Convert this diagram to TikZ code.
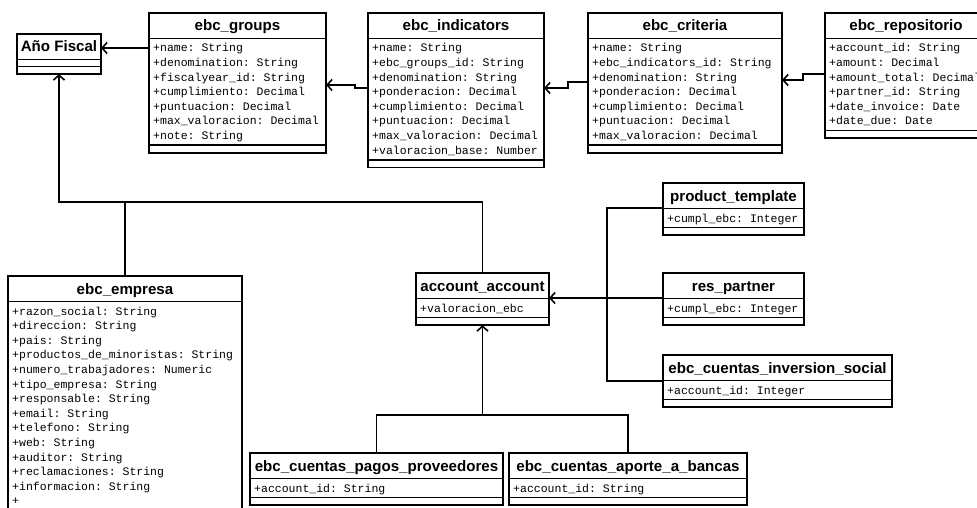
\documentclass[tikz,border=0pt]{standalone}
\usepackage{fontspec}
\setmainfont{Liberation Sans}
\newfontfamily\clstitlefont{Liberation Sans}
\newfontfamily\clsattrfont{Liberation Mono}
\usetikzlibrary{arrows.meta,calc}
\frenchspacing

\tikzset{
  classbox/.style={draw, line width=1.6pt, inner sep=0pt, outer sep=0pt, anchor=north west},
  classline/.style={line width=1.6pt},
  classtitle/.style={anchor=base, inner sep=0pt,
    font=\clstitlefont\bfseries\fontsize{15.1}{18}\selectfont},
  attrtext/.style={anchor=base west, inner sep=0pt,
    font=\clsattrfont\fontsize{11.5}{14}\selectfont\frenchspacing},
  conn/.style={line width=1.6pt},
  assoc/.style={conn, -{Straight Barb[length=5pt,width=11pt]}},
}

% UML class box: name, left x, top y, width, number of attributes, title, attributes
\newcommand\umlclass[7]{%
  \pgfmathsetmacro\clsattr{ifthenelse(#5==0,7,#5*14.6+4.5)}%
  \pgfmathsetmacro\clsheight{25.5+\clsattr+7.5}%
  \node[classbox, minimum width=#4pt, minimum height=\clsheight pt] (#1) at (#2,#3) {};
  \draw[classline] ($(#1.north west)+(0,25.5)$) -- ++(#4,0);
  \draw[classline] ($(#1.north west)+(0,25.5+\clsattr)$) -- ++(#4,0);
  \node[classtitle] (#1-t) at ($(#1.north)+(0,18)$) {#6};
  \ifnum#5>0
    \foreach \clsline [count=\i from 0] in {#7} {
      \node[attrtext] (#1-a\i) at ($(#1.north west)+(4,39+\i*14.6)$) {\clsline};
    }
  \fi
}

\begin{document}
\begin{tikzpicture}[x=1pt, y=-1pt]
  \useasboundingbox (0,0) rectangle (977,508);
  \fill[white] (0,0) rectangle (977,508);
  \clip (0,0) rectangle (977,508);

  % classes
  \umlclass{fiscal}{17}{34}{84}{0}{Año Fiscal}{}
  \umlclass{groups}{149}{13}{177}{7}{ebc\_groups}{%
    +name: String,+denomination: String,+fiscalyear\_id: String,%
    +cumplimiento: Decimal,+puntuacion: Decimal,+max\_valoracion: Decimal,+note: String}
  \umlclass{indicators}{368}{13}{176}{8}{ebc\_indicators}{%
    +name: String,+ebc\_groups\_id: String,+denomination: String,+ponderacion: Decimal,%
    +cumplimiento: Decimal,+puntuacion: Decimal,+max\_valoracion: Decimal,%
    +valoracion\_base: Number}
  \umlclass{criteria}{588}{13}{194}{7}{ebc\_criteria}{%
    +name: String,+ebc\_indicators\_id: String,+denomination: String,%
    +ponderacion: Decimal,+cumplimiento: Decimal,+puntuacion: Decimal,%
    +max\_valoracion: Decimal}
  \umlclass{repositorio}{825}{13}{162}{6}{ebc\_repositorio}{%
    +account\_id: String,+amount: Decimal,+amount\_total: Decimal,%
    +partner\_id: String,+date\_invoice: Date,+date\_due: Date}
  \umlclass{empresa}{8}{276}{234}{14}{ebc\_empresa}{%
    +razon\_social: String,+direccion: String,+pais: String,%
    +productos\_de\_minoristas: String,+numero\_trabajadores: Numeric,%
    +tipo\_empresa: String,+responsable: String,+email: String,+telefono: String,%
    +web: String,+auditor: String,+reclamaciones: String,+informacion: String,+}
  \umlclass{account}{416}{273}{133}{1}{account\_account}{+valoracion\_ebc}
  \umlclass{product}{663}{183}{141}{1}{product\_template}{+cumpl\_ebc: Integer}
  \umlclass{partner}{663}{273}{141}{1}{res\_partner}{+cumpl\_ebc: Integer}
  \umlclass{inversion}{663}{355}{229}{1}{ebc\_cuentas\_inversion\_social}{+account\_id: Integer}
  \umlclass{pagos}{250}{453}{253}{1}{ebc\_cuentas\_pagos\_proveedores}{+account\_id: String}
  \umlclass{aporte}{509}{453}{238}{1}{ebc\_cuentas\_aporte\_a\_bancas}{+account\_id: String}

  % associations along the top row
  \draw[assoc] ($(groups.north west)+(0,35)$) -- ($(fiscal.north east)+(0,14)$);
  \draw[assoc] ($(indicators.north west)+(0,75)$) -- ++(-13,0) |- ($(groups.north east)+(0,72)$);
  \draw[assoc] ($(criteria.north west)+(0,69)$) -- ++(-20,0) |- ($(indicators.north east)+(0,75)$);
  \draw[assoc] ($(repositorio.north west)+(0,61)$) -- ++(-22,0) |- ($(criteria.north east)+(0,67)$);

  % ebc_empresa and account_account to Año Fiscal
  \coordinate (leftbus) at ($(empresa.north)+(0,-74)$);
  \draw[assoc] (empresa.north) -- (leftbus) -| (fiscal.south);
  \draw[conn] (account.north) |- (leftbus);

  % right-hand classes to account_account
  \coordinate (rightbus) at ($(partner.north west)+(-56,25)$);
  \draw[assoc] ($(partner.north west)+(0,25)$) -- ($(account.north east)+(0,25)$);
  \draw[conn] ($(product.north west)+(0,25)$) -| (rightbus);
  \draw[conn] ($(inversion.north west)+(0,26)$) -| (rightbus);

  % bottom classes to account_account
  \coordinate (bottombus) at ($(account.south)+(0,90)$);
  \draw[assoc] (pagos.north) |- (bottombus) -- (account.south);
  \draw[conn] (aporte.north) |- (bottombus);
\end{tikzpicture}
\end{document}
